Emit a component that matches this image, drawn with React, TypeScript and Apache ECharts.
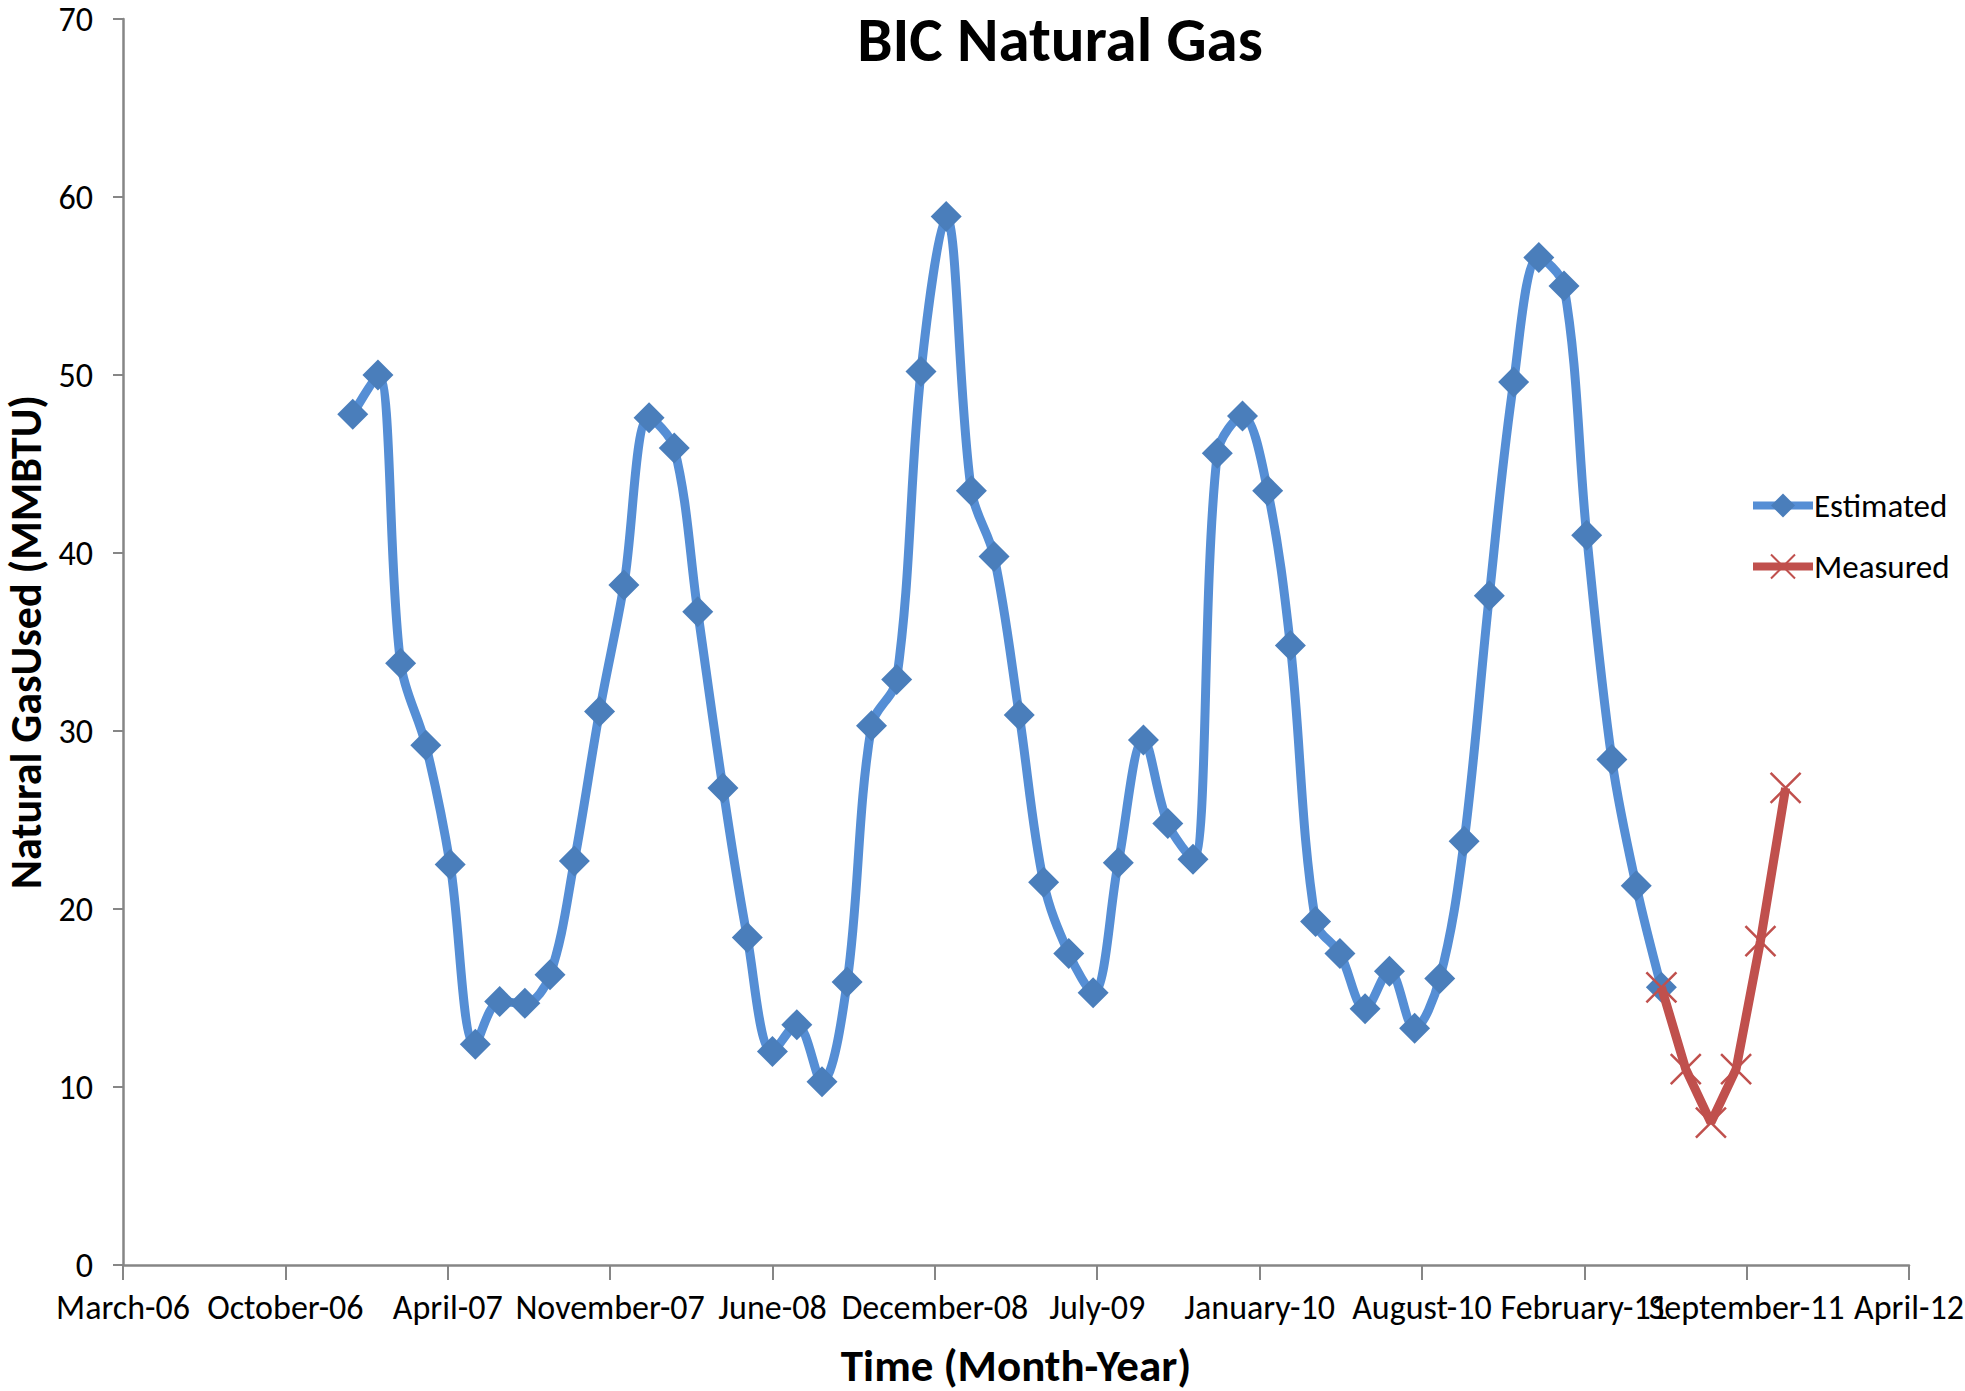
import React, { useEffect, useRef } from "react";
import * as echarts from "echarts";

const estimatedMonths = [
  "2007-01","2007-02","2007-03","2007-04","2007-05","2007-06","2007-07","2007-08","2007-09","2007-10","2007-11","2007-12",
  "2008-01","2008-02","2008-03","2008-04","2008-05","2008-06","2008-07","2008-08","2008-09","2008-10","2008-11","2008-12",
  "2009-01","2009-02","2009-03","2009-04","2009-05","2009-06","2009-07","2009-08","2009-09","2009-10","2009-11","2009-12",
  "2010-01","2010-02","2010-03","2010-04","2010-05","2010-06","2010-07","2010-08","2010-09","2010-10","2010-11","2010-12",
  "2011-01","2011-02","2011-03","2011-04","2011-05","2011-06",
];
const estimatedValues = [
  47.8, 50.0, 33.8, 29.2, 22.5, 12.4, 14.8, 14.7, 16.3, 22.7, 31.1, 38.2,
  47.6, 45.9, 36.7, 26.8, 18.4, 12.0, 13.5, 10.3, 15.9, 30.3, 32.9, 50.2,
  58.9, 43.5, 39.8, 30.9, 21.5, 17.5, 15.3, 22.6, 29.5, 24.8, 22.8, 45.6,
  47.7, 43.5, 34.8, 19.3, 17.5, 14.4, 16.5, 13.3, 16.1, 23.8, 37.6, 49.6,
  56.6, 55.0, 41.0, 28.4, 21.3, 15.6,
];
const measuredMonths = ["2011-06", "2011-07", "2011-08", "2011-09", "2011-10", "2011-11"];
const measuredValues = [15.6, 11.0, 8.0, 11.0, 18.2, 26.8];

// Excel-style date axis (serial day numbers)
const xMin = 38800;
const xMax = 41000;
const xInterval = 200;
const yMin = 0;
const yMax = 70;
const yInterval = 10;

const monthNames = [
  "January","February","March","April","May","June",
  "July","August","September","October","November","December",
];

const toSerial = (ym: string) => {
  const [y, m] = ym.split("-").map(Number);
  return Date.UTC(y, m - 1, 1) / 86400000 + 25569;
};
const serialLabel = (v: number) => {
  const d = new Date((v - 25569) * 86400000);
  return monthNames[d.getUTCMonth()] + "-" + String(d.getUTCFullYear() % 100).padStart(2, "0");
};

const FONT = "Carlito, Lato, 'Open Sans', sans-serif";

export default function App() {
  const ref = useRef<HTMLDivElement>(null);
  useEffect(() => {
    document.body.style.margin = "0";
    const chart = echarts.init(ref.current!, null, { renderer: "svg" });
    const axisColor = "#868686";
    chart.setOption({
      animation: false,
      backgroundColor: "#ffffff",
      textStyle: { fontFamily: FONT },
      title: {
        text: "BIC Natural Gas",
        left: 1060,
        top: 14,
        padding: 0,
        textAlign: "center",
        textStyle: { fontFamily: FONT, fontSize: 63, lineHeight: 50, fontWeight: "bold", color: "#000" },
      },
      legend: {
        orient: "vertical",
        left: 1744,
        top: 484,
        itemWidth: 60,
        itemHeight: 30,
        itemGap: 28,
        lineStyle: { width: 8 },
        textStyle: { fontFamily: FONT, fontSize: 33, color: "#000", padding: [0, 0, 0, -4] },
        data: ["Estimated", "Measured"],
      },
      grid: { left: 123, right: 56, top: 19, bottom: 126, containLabel: false, outerBoundsMode: "none" },
      xAxis: {
        type: "value",
        min: xMin,
        max: xMax,
        interval: xInterval,
        name: "Time (Month-Year)",
        nameLocation: "middle",
        nameGap: 100,
        nameTextStyle: { fontFamily: FONT, fontSize: 45, lineHeight: 36, fontWeight: "bold", color: "#000", verticalAlign: "middle" },
        axisLine: { show: true, lineStyle: { color: axisColor, width: 2.5 } },
        axisTick: { show: true, length: 15, lineStyle: { color: axisColor, width: 2 } },
        axisLabel: {
          fontFamily: FONT,
          fontSize: 34,
          color: "#000",
          margin: 25,
          showMinLabel: true,
          showMaxLabel: true,
          hideOverlap: false,
          formatter: (v: number) => serialLabel(v),
        },
        splitLine: { show: false },
      },
      yAxis: {
        type: "value",
        min: yMin,
        max: yMax,
        interval: yInterval,
        name: "Natural GasUsed (MMBTU)",
        nameLocation: "middle",
        nameGap: 95,
        nameRotate: 90,
        nameTextStyle: { fontFamily: FONT, fontSize: 44, lineHeight: 36, fontWeight: "bold", color: "#000", verticalAlign: "middle" },
        axisLine: { show: true, lineStyle: { color: axisColor, width: 2.5 } },
        axisTick: { show: true, length: 10, lineStyle: { color: axisColor, width: 2 } },
        axisLabel: { fontFamily: FONT, fontSize: 34, color: "#000", margin: 30 },
        splitLine: { show: false },
      },
      series: [
        {
          name: "Estimated",
          type: "line",
          smooth: 0.35,
          data: estimatedMonths.map((m, i) => [toSerial(m), estimatedValues[i]]),
          symbol: "diamond",
          symbolSize: 31,
          lineStyle: { color: "#558ED5", width: 9 },
          itemStyle: { color: "#4A7EBB" },
          z: 2,
        },
        {
          name: "Measured",
          type: "line",
          smooth: false,
          data: measuredMonths.map((m, i) => [toSerial(m), measuredValues[i]]),
          symbol: "path://M0,0L10,10M10,0L0,10",
          symbolSize: 30,
          lineStyle: { color: "#C0504D", width: 9 },
          itemStyle: { color: "#C0504D", borderColor: "#C0504D", borderWidth: 2.5 },
          z: 3,
        },
      ],
    });
    return () => chart.dispose();
  }, []);
  return <div ref={ref} style={{ width: "100vw", height: "100vh" }} />;
}
